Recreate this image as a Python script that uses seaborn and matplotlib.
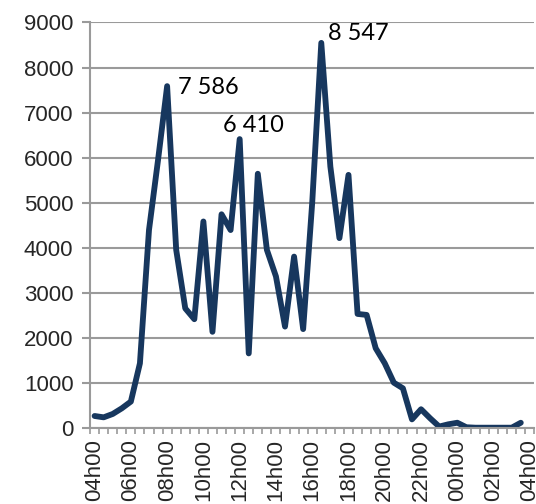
import numpy as np
import pandas as pd
import matplotlib
matplotlib.use("Agg")
import matplotlib.pyplot as plt
import seaborn as sns
from matplotlib.ticker import MultipleLocator, FixedLocator

# valeurs par demi-heure, de 04h00 a 03h30 le lendemain
counts = [260, 230, 305, 430, 580, 1430, 4390, 5950, 7586, 3950,
          2650, 2410, 4580, 2130, 4740, 4390, 6410, 1650, 5640, 3950,
          3360, 2245, 3800, 2190, 5000, 8547, 5800, 4210, 5615, 2527,
          2505, 1765, 1430, 1000, 875, 185, 410, 210, 25, 75,
          110, 10, 0, 0, 0, 0, 0, 110]

n_slots = 49  # 04h00 -> 04h00 (derniere categorie vide)
tick_pos = [0, 4, 8, 12, 16, 20, 24, 28, 32, 36, 40, 44, 48]
tick_labels = ["04h00", "06h00", "08h00", "10h00", "12h00", "14h00", "16h00",
               "18h00", "20h00", "22h00", "00h00", "02h00", "04h00"]

# pics annotes : (index, texte, decalage en points, alignement)
peaks = [(8, "7 586", (8, -1), "left"),
         (16, "6 410", (10, 10), "center"),
         (25, "8 547", (5, 6.5), "left")]

df = pd.DataFrame({"slot": np.arange(len(counts)), "count": counts})

sns.set_theme(style="white")
plt.rcParams["font.family"] = ["Liberation Sans", "DejaVu Sans"]

grey = "#9a9a9a"
navy = "#17375e"

fig = plt.figure(figsize=(5.36, 5.04), dpi=100)
ax = fig.add_axes([0.168, 0.1514, 0.829, 0.804])

sns.lineplot(data=df, x="slot", y="count", ax=ax, color=navy,
             linewidth=4.2, solid_joinstyle="round", solid_capstyle="round")

ax.set_xlim(-0.5, n_slots - 0.5)
ax.set_ylim(0, 9000)
ax.yaxis.set_major_locator(MultipleLocator(1000))
ax.grid(axis="y", color=grey, linewidth=1.5)
ax.set_axisbelow(True)

ax.set_xticks(tick_pos)
ax.set_xticklabels(tick_labels, rotation=90)
ax.xaxis.set_minor_locator(FixedLocator(np.arange(-0.5, n_slots, 1.0)))
ax.tick_params(axis="x", which="major", length=0, pad=8, labelsize=16)
ax.tick_params(axis="x", which="minor", length=4, width=1.2, color=grey,
               direction="out", bottom=True)
ax.tick_params(axis="y", which="major", length=6, width=1.5, color=grey,
               direction="out", labelsize=16, pad=6, left=True)

for side in ["top", "right"]:
    ax.spines[side].set_visible(False)
for side in ["left", "bottom"]:
    ax.spines[side].set_color(grey)
    ax.spines[side].set_linewidth(1.5)

ax.set_xlabel("")
ax.set_ylabel("")

for idx, text, off, ha in peaks:
    ax.annotate(text, (idx, counts[idx]), xytext=off, textcoords="offset points",
                ha=ha, va="center", fontsize=17, family=["Lato", "DejaVu Sans"],
                color="black", annotation_clip=False)

fig.savefig("out.png", dpi=100)
